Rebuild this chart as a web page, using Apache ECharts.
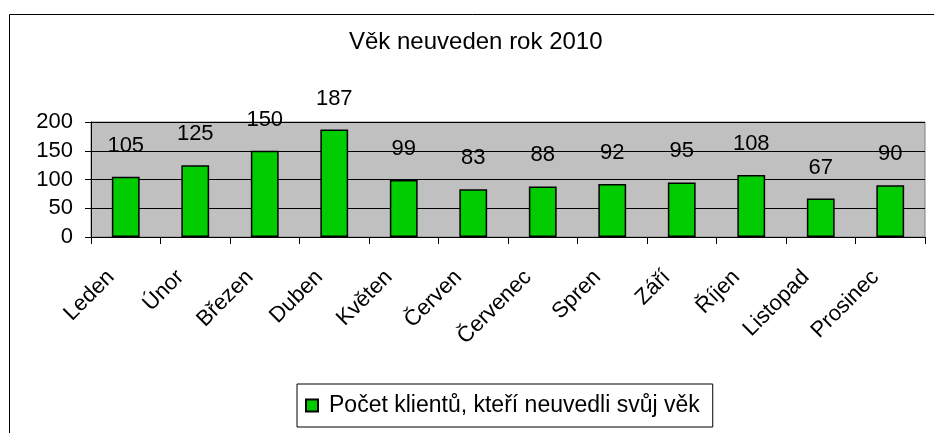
<!DOCTYPE html>
<html>
<head>
<meta charset="utf-8">
<title>Věk neuveden rok 2010</title>
<script src="https://cdn.jsdelivr.net/npm/echarts@6/dist/echarts.min.js"></script>
<style>
  html, body { margin: 0; padding: 0; background: #fff; }
  #chart { width: 934px; height: 433px; }
</style>
</head>
<body>
<div id="chart"></div>
<script>
// data
var months = ['Leden', 'Únor', 'Březen', 'Duben', 'Květen', 'Červen',
  'Červenec', 'Spren', 'Září', 'Říjen', 'Listopad', 'Prosinec'];
var counts = [105, 125, 150, 187, 99, 83, 88, 92, 95, 108, 67, 90];
var yTicks = [0, 50, 100, 150, 200];
var seriesName = 'Počet klientů, kteří neuvedli svůj věk';
var chartTitle = 'Věk neuveden rok 2010';

var font = 'Liberation Sans, Arial, sans-serif';

var chart = echarts.init(document.getElementById('chart'));
chart.setOption({
  animation: false,
  textStyle: { fontFamily: font },
  title: {
    text: chartTitle,
    left: 349,
    top: 30,
    padding: 0,
    textStyle: { fontSize: 24, fontWeight: 'normal', color: '#000', fontFamily: font }
  },
  // outer chart frame (right / bottom edges are cut off in the original)
  graphic: [{
    type: 'rect',
    silent: true,
    shape: { x: 9.5, y: 14.5, width: 1000, height: 1000 },
    style: { fill: 'none', stroke: '#000', lineWidth: 1 }
  }],
  grid: {
    left: 91,
    right: 9,
    top: 122,
    bottom: 196,
    show: true,
    backgroundColor: '#C0C0C0',
    borderColor: '#808080',
    borderWidth: 1
  },
  legend: {
    data: [seriesName],
    left: 297,
    top: 384,
    padding: [10, 13, 10, 8],
    borderColor: '#000',
    borderWidth: 1,
    itemWidth: 12,
    itemHeight: 12,
    itemGap: 12,
    icon: 'rect',
    textStyle: { fontSize: 23, color: '#000', fontFamily: font, padding: [0, 0, 0, 6] }
  },
  xAxis: {
    type: 'category',
    data: months,
    boundaryGap: true,
    axisLine: { show: true, lineStyle: { color: '#000', width: 1 } },
    axisTick: { show: true, length: 7, alignWithLabel: false, lineStyle: { color: '#000' } },
    axisLabel: {
      interval: 0,
      rotate: 45,
      margin: 22,
      // push the rotated text down-left along its baseline, like Excel does
      padding: [0, 21, 0, 0],
      fontSize: 22,
      color: '#000',
      fontFamily: font
    }
  },
  yAxis: {
    type: 'value',
    min: yTicks[0],
    max: yTicks[yTicks.length - 1],
    interval: yTicks[1] - yTicks[0],
    axisLine: { show: true, lineStyle: { color: '#000', width: 1 } },
    axisTick: { show: true, length: 6, lineStyle: { color: '#000' } },
    axisLabel: { margin: 18, fontSize: 22, color: '#000', fontFamily: font },
    splitLine: { show: true, lineStyle: { color: '#000', width: 1 } }
  },
  series: [{
    name: seriesName,
    type: 'bar',
    data: counts,
    barWidth: '40%',
    itemStyle: {
      color: '#00CC00',
      borderColor: '#000',
      borderWidth: 1.5
    },
    label: {
      show: true,
      position: 'top',
      distance: 20,
      fontSize: 22,
      color: '#000',
      fontFamily: font
    }
  }]
});
</script>
</body>
</html>
